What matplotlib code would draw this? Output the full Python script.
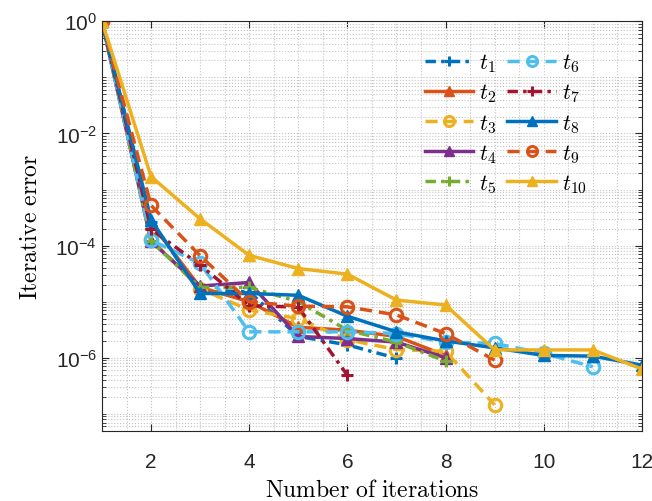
import matplotlib
matplotlib.use("Agg")
import matplotlib.pyplot as plt
from matplotlib.ticker import LogLocator, MultipleLocator, NullFormatter
import numpy as np

plt.rcParams['mathtext.fontset'] = 'cm'
plt.rcParams['font.family'] = ['Liberation Sans', 'DejaVu Sans']

# iteration errors
t1 = [1, 2.6e-4, 1.6e-5, 1.5e-5, 2.4e-6, 1.7e-6, 9.8e-7]
t2 = [1, 2.5e-4, 1.8e-5, 1.0e-5, 3.5e-6, 3.1e-6, 2.4e-6, 1.1e-6]
t3 = [1, 1.3e-4, 1.7e-5, 7.1e-6, 5.0e-6, 2.1e-6, 1.4e-6, 1.3e-6, 1.45e-7]
t4 = [1, 1.2e-4, 1.9e-5, 2.2e-5, 2.4e-6, 2.2e-6, 1.9e-6, 1.0e-6]
t5 = [1, 1.2e-4, 1.8e-5, 1.8e-5, 1.0e-5, 3.1e-6, 1.9e-6, 8.7e-7]
t6 = [1, 1.25e-4, 4.8e-5, 2.9e-6, 2.9e-6, 2.9e-6, 2.7e-6, 1.9e-6, 1.8e-6, 1.2e-6, 6.9e-7]
t7 = [1, 1.96e-4, 4.5e-5, 8.5e-6, 8.0e-6, 4.9e-7]
t8 = [1, 2.9e-4, 1.4e-5, 1.4e-5, 1.3e-5, 5.5e-6, 2.9e-6, 2.0e-6, 1.5e-6, 1.1e-6, 1.07e-6, 7.4e-7]
t9 = [1, 5.2e-4, 6.6e-5, 1.0e-5, 8.3e-6, 8.1e-6, 5.8e-6, 2.7e-6, 9.1e-7]
t10 = [1, 1.7e-3, 3.0e-4, 6.7e-5, 3.9e-5, 3.1e-5, 1.07e-5, 8.7e-6, 1.38e-6, 1.38e-6, 1.38e-6, 6.3e-7]

series = [t1, t2, t3, t4, t5, t6, t7, t8, t9, t10]
labels = ['$t_{%d}$' % (i + 1) for i in range(10)]

colors = ['#0072BD', '#D95319', '#EDB120', '#7E2F8E', '#77AC30',
          '#4DBEEE', '#A2142F', '#0072BD', '#D95319', '#EDB120']
styles = ['-.', '-', '--', '-', '-.', '--', '-.', '-', '--', '-']
markers = ['+', '^', 'o', '^', '+', 'o', '+', '^', 'o', '^']
dashes = {'-.': (3, 1.5, 1, 1.5), '--': (3.5, 2)}

fig = plt.figure(figsize=(6.52, 5.02), dpi=100)
ax = fig.add_axes([0.1564, 0.140, 0.828, 0.8156])

for y, lab, c, ls, m in zip(series, labels, colors, styles, markers):
    x = np.arange(1, len(y) + 1)
    kw = dict(color=c, marker=m, ms=9, mec=c, lw=2.5, label=lab)
    if ls in dashes:
        kw['dashes'] = dashes[ls]
    if m == '^':
        kw.update(mfc=c)
    elif m == 'o':
        kw.update(mfc='none', mew=2.2)
    else:
        kw.update(mew=2.2)
    ax.plot(x, y, ls, **kw)

ax.set_yscale('log')
ax.set_xlim(1, 12)
ax.set_ylim(5e-8, 1)
ax.set_xticks([2, 4, 6, 8, 10, 12])
ax.xaxis.set_minor_locator(MultipleLocator(0.5))
ax.set_yticks([1e0, 1e-2, 1e-4, 1e-6])
ax.yaxis.set_minor_locator(LogLocator(base=10, subs=np.arange(1, 10), numticks=20))
ax.yaxis.set_minor_formatter(NullFormatter())

ax.grid(True, which='both', ls=':', color='#c4c4c4', lw=0.8)
ax.set_axisbelow(True)
ax.tick_params(which='both', direction='in', top=True, right=True,
               labelsize=15, colors='#262626', labelcolor='#262626')
ax.tick_params(which='major', length=5, width=0.8)
ax.tick_params(which='minor', length=3, width=0.6)
ax.tick_params(axis='x', which='minor', length=0)
ax.tick_params(axis='x', pad=15)
for sp in ax.spines.values():
    sp.set_color('#262626')
    sp.set_linewidth(0.8)

ax.set_xlabel(r'$\mathrm{Number\ of\ iterations}$', fontsize=17, labelpad=6)
ax.set_ylabel(r'$\mathrm{Iterative\ error}$', fontsize=17, labelpad=10)

leg = ax.legend(ncol=2, frameon=False, fontsize=16, handlelength=2.2,
                columnspacing=0.5, handletextpad=0.25, labelspacing=0.33,
                markerscale=0.8, loc='upper right', bbox_to_anchor=(0.935, 0.975))

fig.savefig('out.png', dpi=100)
